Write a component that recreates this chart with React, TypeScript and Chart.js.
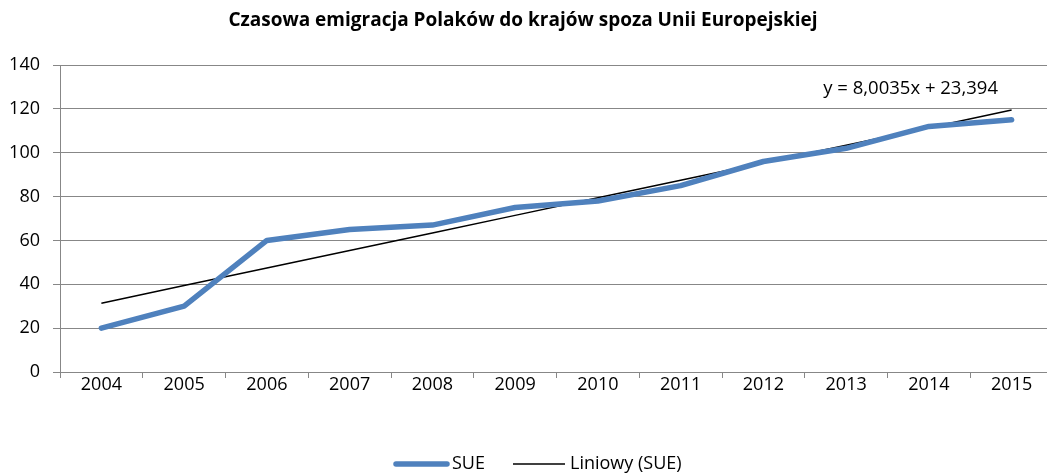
import React, { useEffect, useRef } from "react";
import { Chart, registerables } from "chart.js";

Chart.register(...registerables);

const years = ["2004", "2005", "2006", "2007", "2008", "2009", "2010", "2011", "2012", "2013", "2014", "2015"];
const sueValues = [20, 30, 60, 65, 67, 75, 78, 85, 96, 102, 112, 115];
const trendValues = [31.4, 39.4, 47.41, 55.41, 63.41, 71.42, 79.42, 87.42, 95.43, 103.43, 111.43, 119.44];
const titleText = "Czasowa emigracja Polaków do krajów spoza Unii Europejskiej";
const equationText = "y = 8,0035x + 23,394";
const seriesLabels = ["SUE", "Liniowy (SUE)"];

const FONT = "'Open Sans', 'Noto Sans', sans-serif";
const GRID = "#878787";
const BLUE = "#4F81BD";

const titlePlugin = {
  id: "customTitle",
  afterDraw(chart: any) {
    const { ctx } = chart;
    ctx.save();
    ctx.font = `bold 19px ${FONT}`;
    ctx.fillStyle = "#000";
    ctx.textAlign = "center";
    ctx.textBaseline = "middle";
    ctx.fillText(titleText, 523, 21);
    ctx.restore();
  },
};

const equationPlugin = {
  id: "equationLabel",
  afterDatasetsDraw(chart: any) {
    const { ctx, scales } = chart;
    const x = scales.x.getPixelForValue(years.length - 1) - 101;
    const y = scales.y.getPixelForValue(129);
    ctx.save();
    ctx.font = `18.5px ${FONT}`;
    ctx.fillStyle = "#000";
    ctx.textAlign = "center";
    ctx.textBaseline = "middle";
    ctx.fillText(equationText, x, y);
    ctx.restore();
  },
};

const legendPlugin = {
  id: "customLegend",
  afterDraw(chart: any) {
    const { ctx } = chart;
    const y = 464;
    ctx.save();
    ctx.font = `18px ${FONT}`;
    ctx.fillStyle = "#000";
    ctx.textAlign = "left";
    ctx.textBaseline = "middle";
    ctx.strokeStyle = BLUE;
    ctx.lineWidth = 5.5;
    ctx.lineCap = "round";
    ctx.beginPath();
    ctx.moveTo(396, y);
    ctx.lineTo(447, y);
    ctx.stroke();
    ctx.fillText(seriesLabels[0], 452, y);
    ctx.strokeStyle = "#000";
    ctx.lineWidth = 1.5;
    ctx.lineCap = "butt";
    ctx.beginPath();
    ctx.moveTo(513, y);
    ctx.lineTo(565, y);
    ctx.stroke();
    ctx.fillText(seriesLabels[1], 570, y);
    ctx.restore();
  },
};

export default function App() {
  const ref = useRef<HTMLCanvasElement>(null);
  useEffect(() => {
    document.body.style.margin = "0";
    const chart = new Chart(ref.current!, {
      type: "line",
      data: {
        labels: years,
        datasets: [
          {
            label: seriesLabels[0],
            data: sueValues,
            borderColor: BLUE,
            backgroundColor: BLUE,
            borderWidth: 5.5,
            pointRadius: 0,
            borderCapStyle: "round",
            borderJoinStyle: "round",
          },
          {
            label: seriesLabels[1],
            data: trendValues,
            borderColor: "#000",
            backgroundColor: "#000",
            borderWidth: 1.5,
            pointRadius: 0,
          },
        ],
      },
      options: {
        animation: false,
        responsive: false,
        layout: { padding: { left: 4, right: 27, top: 65, bottom: 0 } },
        plugins: {
          title: { display: false },
          legend: { display: false },
          tooltip: { enabled: false },
        },
        scales: {
          x: {
            offset: true,
            grid: {
              offset: true,
              drawOnChartArea: false,
              drawTicks: true,
              tickLength: 6,
              color: GRID,
            },
            border: { color: GRID, width: 1 },
            ticks: { color: "#000", font: { family: FONT, size: 18 }, padding: -4, maxRotation: 0, autoSkip: false },
            afterFit(scale: any) {
              scale.height = 102;
            },
          },
          y: {
            min: 0,
            max: 140,
            ticks: { stepSize: 20, color: "#000", font: { family: FONT, size: 18 }, padding: 13 },
            grid: { color: GRID, tickLength: 7 },
            border: { color: GRID, width: 1 },
            afterFit(scale: any) {
              scale.width = 56;
            },
          },
        },
      },
      plugins: [titlePlugin, equationPlugin, legendPlugin],
    });
    return () => chart.destroy();
  }, []);
  return (
    <div style={{ width: 1047, height: 474, overflow: "hidden" }}>
      <canvas ref={ref} width={1080} height={474} style={{ display: "block" }} />
    </div>
  );
}
